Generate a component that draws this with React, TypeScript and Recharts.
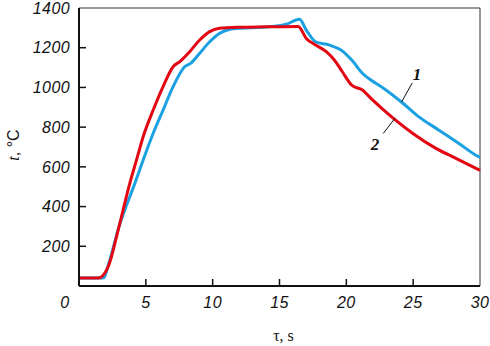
import React from 'react';
import { LineChart, Line, XAxis, YAxis, ReferenceLine, ReferenceDot } from 'recharts';

// curve 1 (blue) — time, s / temperature, °C
const time1 = [0, 1.8, 2.3, 2.93, 4.18, 4.8, 5.55, 6.29, 7.04, 7.9, 8.4, 9.03, 9.78, 10.5, 11.3, 12, 14, 15.5, 16.5, 17.0, 17.7, 18.7, 19.6, 20.5, 21.2, 22.2, 22.8, 24.1, 25.4, 26.9, 28.4, 29.9, 30];
const temp1 = [40, 40, 130, 285, 517, 634, 769, 886, 1004, 1104, 1124, 1172, 1230, 1272, 1293, 1298, 1304, 1318, 1343, 1289, 1230, 1214, 1188, 1130, 1071, 1021, 995, 928, 853, 786, 719, 651, 648];

// curve 2 (red)
const time2 = [0, 1.45, 2.2, 2.93, 3.8, 4.3, 4.8, 5.55, 6.29, 7.04, 7.54, 8.28, 9.03, 9.78, 10.5, 12, 14, 16.4, 17.0, 17.7, 18.5, 19.1, 19.7, 20.4, 21.2, 21.96, 23.5, 24.95, 26.7, 28.2, 30];
const temp2 = [40, 40, 100, 282, 517, 634, 752, 886, 1004, 1104, 1130, 1180, 1239, 1281, 1298, 1303, 1305, 1307, 1247, 1214, 1180, 1138, 1079, 1012, 987, 937, 845, 769, 693, 643, 582];

const xTicks = [0, 5, 10, 15, 20, 25, 30];
const yTicks = [200, 400, 600, 800, 1000, 1200, 1400];

const curve1 = time1.map((t, i) => ({ t, v: temp1[i] }));
const curve2 = time2.map((t, i) => ({ t, v: temp2[i] }));

const tickFont = { fontFamily: 'Liberation Sans, Arial, sans-serif', fontStyle: 'italic', fontSize: 16, letterSpacing: 0.4, fill: '#111' };

const XTick = (props: any) => {
  const { x, y, payload } = props;
  const val = payload.value;
  const showMark = val !== 0 && val !== 30;
  return (
    <g>
      {showMark && <line x1={x} x2={x} y1={y} y2={y - 7} stroke="#111" strokeWidth={1.5} />}
      <text x={val === 0 ? x - 14 : x} y={y + 22} textAnchor="middle" {...tickFont}>{val}</text>
    </g>
  );
};

const YTick = (props: any) => {
  const { x, y, payload } = props;
  const val = payload.value;
  return (
    <g>
      {val !== 1400 && <line x1={x} x2={x + 7} y1={y} y2={y} stroke="#111" strokeWidth={1.5} />}
      <text x={x - 9} y={y} dy="0.36em" textAnchor="end" {...tickFont}>{val}</text>
    </g>
  );
};

const YLabel = () => (
  <text transform="translate(19,145) rotate(-90)" textAnchor="middle" fontSize={16} fill="#111">
    <tspan fontFamily="Liberation Serif, serif" fontStyle="italic">t</tspan>
    <tspan fontFamily="Liberation Sans, Arial, sans-serif">, °C</tspan>
  </text>
);

const numFont = { fontFamily: 'Liberation Serif, serif', fontStyle: 'italic', fontWeight: 'bold', fontSize: 17, fill: '#111' };

export default function App() {
  return (
    <div style={{ position: 'absolute', left: 0, top: 0, width: 490, height: 346, background: '#fff' }}>
      <LineChart width={490} height={346} margin={{ top: 8, right: 10, left: 0, bottom: 0 }}>
        <XAxis
          type="number"
          dataKey="t"
          domain={[0, 30]}
          ticks={xTicks}
          interval={0}
          height={60}
          tickSize={0}
          tickMargin={0}
          tickLine={false}
          tick={<XTick />}
          axisLine={{ stroke: '#111', strokeWidth: 2 }}
          label={{ value: 'τ, s', position: 'insideBottom', offset: 5, dx: 4, style: { fontFamily: 'Liberation Serif, serif', fontSize: 16, fill: '#111' } }}
        />
        <YAxis
          type="number"
          dataKey="v"
          domain={[0, 1400]}
          ticks={yTicks}
          interval={0}
          width={79}
          tickSize={0}
          tickMargin={0}
          tickLine={false}
          tick={<YTick />}
          axisLine={{ stroke: '#111', strokeWidth: 2 }}
          label={{ content: () => <YLabel /> }}
        />
        <ReferenceLine y={1400} stroke="#333" strokeWidth={1} />
        <ReferenceLine x={30} stroke="#333" strokeWidth={1} />
        <Line data={curve1} dataKey="v" type="monotone" stroke="#1ba1e2" strokeWidth={3} dot={false} isAnimationActive={false} />
        <Line data={curve2} dataKey="v" type="monotone" stroke="#e30613" strokeWidth={3} dot={false} isAnimationActive={false} />
        <ReferenceLine segment={[{ x: 24.93, y: 1023 }, { x: 24.14, y: 927 }]} stroke="#111" strokeWidth={1} />
        <ReferenceLine segment={[{ x: 23.63, y: 844 }, { x: 22.76, y: 768 }]} stroke="#111" strokeWidth={1} />
        <ReferenceDot x={25.28} y={1070} r={0} stroke="none" fill="none" label={{ value: '1', position: 'center', style: numFont }} />
        <ReferenceDot x={22.14} y={717} r={0} stroke="none" fill="none" label={{ value: '2', position: 'center', style: numFont }} />
      </LineChart>
    </div>
  );
}
